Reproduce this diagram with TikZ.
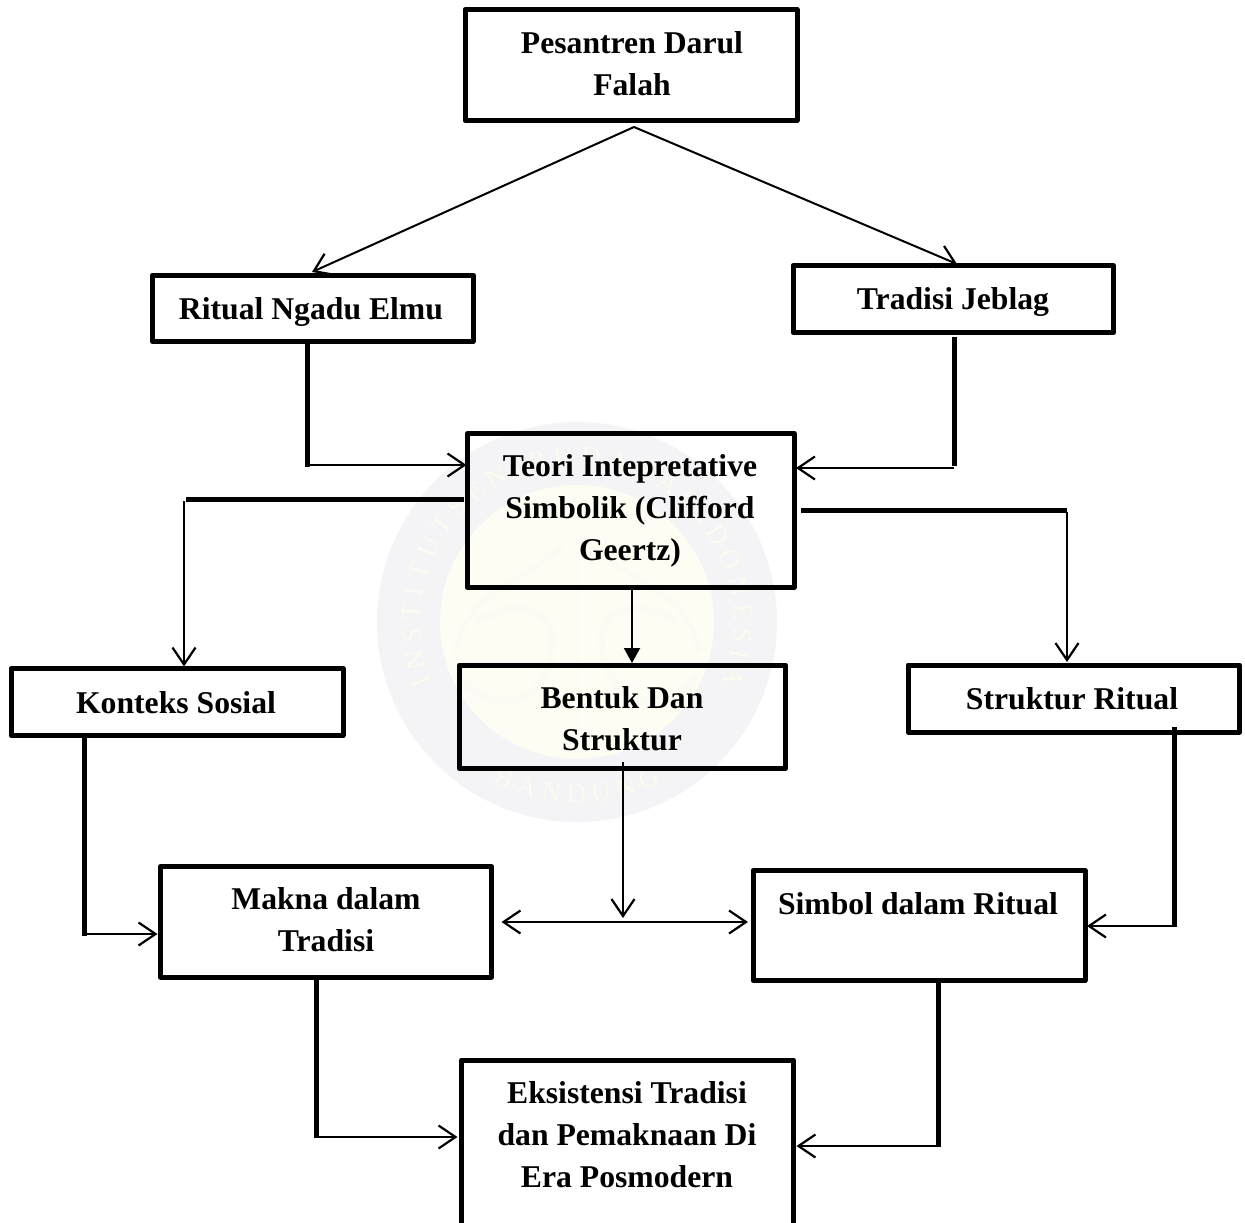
\documentclass[tikz,border=0pt]{standalone}
\usepackage{fontspec}
\setmainfont{Liberation Serif}
\usetikzlibrary{arrows.meta,calc,decorations.text}
\definecolor{ringc}{HTML}{F4F4F7}
\definecolor{innerc}{HTML}{FEFDF3}
\definecolor{lettc}{HTML}{FBFBEF}
\definecolor{emblc}{HTML}{FBFBF3}
\tikzset{
  boxstyle/.style={draw=black,line width=5bp,rectangle,inner sep=0pt,outer sep=0pt,fill=none,line join=round,
    font=\fontsize{31.8}{42.5}\selectfont\bfseries},
  thickline/.style={line width=5bp,line cap=butt},
  thinline/.style={line width=2bp},
  openhead/.style={-{Straight Barb[length=17bp,width=23bp,line width=2.2bp]}},
  bothhead/.style={{Straight Barb[length=17bp,width=23bp,line width=2.2bp]}-{Straight Barb[length=17bp,width=23bp,line width=2.2bp]}},
  solidhead/.style={-{Triangle[length=15bp,width=16bp]}}
}
% \bx{name}{left}{top}{right}{bottom}{text centre x}{first baseline y}{lines}
\newcommand\bx[8]{%
  \pgfmathsetlengthmacro\bxW{(#4-#2)*1bp}%
  \pgfmathsetlengthmacro\bxH{(#5-#3)*1bp}%
  \pgfmathsetlengthmacro\bxDX{2*(#6-(#2+#4)/2)*1bp}%
  \pgfmathsetlengthmacro\bxDY{(#7+1-(#3+#5)/2)*1bp}%
  \node[boxstyle,minimum width=\bxW,minimum height=\bxH] (#1) at ({(#2+#4)/2},{(#3+#5)/2})
    {\raisebox{-\bxDY}[0pt][0pt]{\makebox[0pt][c]{\kern\bxDX\begin{tabular}[t]{@{}c@{}}#8\end{tabular}}}};%
}
\begin{document}
\begin{tikzpicture}[x=1bp,y=-1bp]
\clip (0,0) rectangle (1245,1223);
\fill[white] (0,0) rectangle (1245,1223);
% watermark seal
\begin{scope}[shift={(577,622)},x=1bp,y=1bp]
  \fill[ringc] (0,0) circle[radius=200bp];
  \fill[innerc] (0,0) circle[radius=137bp];
  \draw[emblc,line width=3bp] (0,-130) -- (0,70);
  \draw[emblc,line width=7bp] (-120,-55) .. controls (-60,-110) and (-25,-60) .. (-25,-20) .. controls (-25,20) and (-70,20) .. (-100,0);
  \draw[emblc,line width=7bp] (120,-55) .. controls (60,-110) and (25,-60) .. (25,-20) .. controls (25,20) and (70,20) .. (100,0);
  \draw[emblc,line width=5bp] (-15,75) .. controls (-70,30) and (-110,30) .. (-122,-30);
  \draw[emblc,line width=5bp] (15,75) .. controls (70,30) and (110,30) .. (122,-30);
  \path[decorate,decoration={text along path,text align=center,
      text={|\fontsize{27}{27}\selectfont\color{lettc}|I N S T I T U T  S E N I  B U D A Y A  I N D O N E S I A}}]
    (225:157bp) arc[start angle=225,end angle=-45,radius=157bp];
  \path[decorate,decoration={text along path,text align=center,
      text={|\fontsize{27}{27}\selectfont\color{lettc}|B A N D U N G}}]
    (215:181bp) arc[start angle=215,end angle=325,radius=181bp];
\end{scope}
% boxes
\bx{pes}{465}{9.5}{797}{120.5}{632}{52}{Pesantren Darul\\Falah}
\bx{rit}{152.5}{275}{473}{341.5}{311}{318}{Ritual Ngadu Elmu}
\bx{tra}{793}{265.5}{1113.5}{332.5}{953}{308}{Tradisi Jeblag}
\bx{teo}{467.5}{433.5}{794}{587.5}{630}{475}{Teori Intepretative\\Simbolik (Clifford\\Geertz)}
\bx{ben}{459.5}{665}{785.5}{768.5}{622}{707}{Bentuk Dan\\Struktur}
\bx{kon}{11}{668.5}{343}{735.5}{176}{712}{Konteks Sosial}
\bx{str}{908}{665}{1239.5}{732}{1072}{708}{Struktur Ritual}
\bx{mak}{160.5}{866.5}{491.5}{977}{326}{908}{Makna dalam\\Tradisi}
\bx{sim}{753}{870.5}{1085}{980.5}{918}{913}{Simbol dalam Ritual}
\bx{eks}{461.5}{1060}{793.5}{1245}{627}{1102}{Eksistensi Tradisi\\dan Pemaknaan Di\\Era Posmodern}
% connector points
\coordinate (apex) at (634,127);
\coordinate (a1) at (312,272);
\coordinate (a2) at (957,264);
\coordinate (c1) at (307,465);
\coordinate (c2) at (954,468);
\coordinate (c3) at (186,499);
\coordinate (c3b) at (184,501);
\coordinate (c4) at (1067,510);
\coordinate (c4b) at (1067,512);
\coordinate (c5) at (632,590);
\coordinate (c6) at (623,762);
\coordinate (c6b) at (623,918);
\coordinate (c7) at (625,922);
\coordinate (c8) at (84,934);
\coordinate (c9) at (1174,926);
\coordinate (c10) at (316,1137);
\coordinate (c11) at (938,1146);
% connectors
\draw[thinline,openhead] (apex) -- (a1);
\draw[thinline,openhead] (apex) -- (a2);
\draw[thickline] (c1 |- rit.south) -- ($(c1)+(0,2)$);
\draw[thinline,openhead] (c1) -- ($(c1 -| teo.west)+(-1,0)$);
\draw[thickline] ($(c2 |- tra.south)+(0,4.5)$) -- ($(c2)+(0,-2)$);
\draw[thinline,openhead] (c2) -- ($(c2 -| teo.east)+(2,0)$);
\draw[thickline] ($(c3 -| teo.west)+(-4,0)$) -- (c3);
\draw[thinline,openhead] (c3b) -- ($(c3b |- kon.north)+(0,-2)$);
\draw[thickline] ($(c4 -| teo.east)+(7,0)$) -- (c4);
\draw[thinline,openhead] (c4b) -- ($(c4b |- str.north)+(0,-3)$);
\draw[thinline,solidhead] (c5) -- ($(c5 |- ben.north)+(0,-2)$);
\draw[thinline,openhead] (c6) -- (c6b);
\draw[thinline,bothhead] ($(c7 -| mak.east)+(10,0)$) -- ($(c7 -| sim.west)+(-5,0)$);
\draw[thickline] (c8 |- kon.south) -- ($(c8)+(0,2)$);
\draw[thinline,openhead] (c8) -- ($(c8 -| mak.west)+(-3,0)$);
\draw[thickline] ($(c9 |- str.south)+(0,-5)$) -- ($(c9)+(0,1)$);
\draw[thinline,openhead] (c9) -- ($(c9 -| sim.east)+(2,0)$);
\draw[thickline] (c10 |- mak.south) -- ($(c10)+(0,1)$);
\draw[thinline,openhead] (c10) -- ($(c10 -| eks.west)+(-4,0)$);
\draw[thickline] (c11 |- sim.south) -- ($(c11)+(0,1)$);
\draw[thinline,openhead] (c11) -- ($(c11 -| eks.east)+(3,0)$);
\end{tikzpicture}
\end{document}
